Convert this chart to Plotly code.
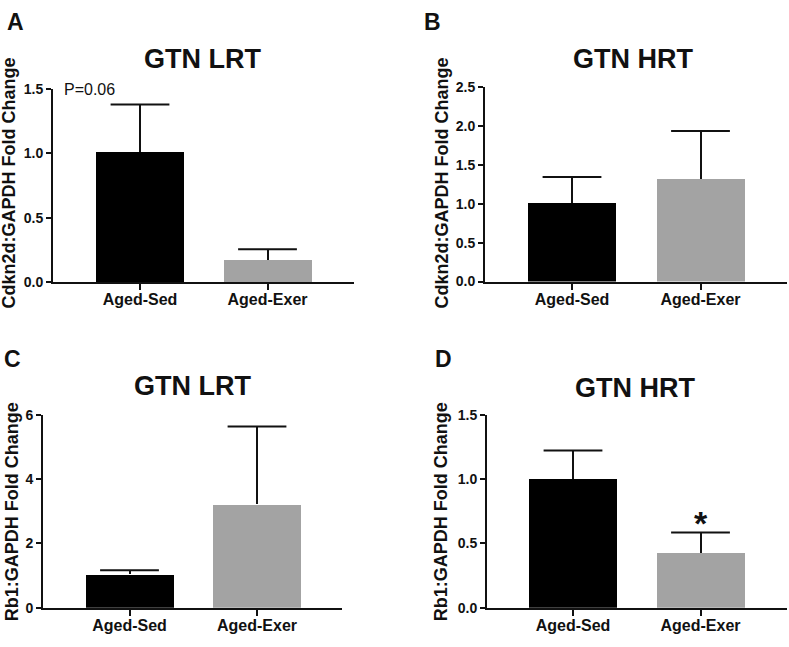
import plotly.graph_objects as go

W, H = 789, 647

groups = ["Aged-Sed", "Aged-Exer"]
colors = ["#000000", "#a3a3a3"]

# Panel A: Cdkn2d GTN LRT
a_mean = [1.01, 0.17]
a_sem = [0.37, 0.085]
# Panel B: Cdkn2d GTN HRT
b_mean = [1.01, 1.315]
b_sem = [0.335, 0.62]
# Panel C: Rb1 GTN LRT
c_mean = [1.04, 3.21]
c_sem = [0.125, 2.42]
# Panel D: Rb1 GTN HRT
d_mean = [1.0, 0.425]
d_sem = [0.222, 0.16]

FONT = "Liberation Sans, Arial, Helvetica, sans-serif"
TXT = "#111111"

panels = [
    dict(mean=a_mean, sem=a_sem, xl=53, xr=354, y0=281, y1=83, c1=140, sp=127.5, ymax=1.5, dtick=0.5, fmt=".1f",
         title="GTN LRT", tx=202, ty=52, label="A", lx=15, ly=14, ytitle="Cdkn2d:GAPDH Fold Change", ytx=9, yty=180),
    dict(mean=b_mean, sem=b_sem, xl=485, xr=787, y0=280.5, y1=81, c1=572, sp=128.5, ymax=2.5, dtick=0.5, fmt=".1f",
         title="GTN HRT", tx=633, ty=52, label="B", lx=432, ly=14, ytitle="Cdkn2d:GAPDH Fold Change", ytx=442, yty=180),
    dict(mean=c_mean, sem=c_sem, xl=43, xr=342, y0=615, y1=417, c1=129.5, sp=127.5, ymax=6, dtick=2, fmt="d",
         title="GTN LRT", tx=192, ty=388, label="C", lx=12, ly=360, ytitle="Rb1:GAPDH Fold Change", ytx=12, yty=517),
    dict(mean=d_mean, sem=d_sem, xl=487, xr=787, y0=615, y1=417, c1=573, sp=127.5, ymax=1.5, dtick=0.5, fmt=".1f",
         title="GTN HRT", tx=635, ty=390, label="D", lx=443, ly=360, ytitle="Rb1:GAPDH Fold Change", ytx=441, yty=517),
]

fig = go.Figure()
annotations = []
for i, p in enumerate(panels):
    n = "" if i == 0 else str(i + 1)
    xa, ya = "x" + n, "y" + n
    bw = 88 / p["sp"]
    fig.add_trace(go.Bar(
        x=[0, 1], y=p["mean"], width=[bw, bw],
        marker=dict(color=colors, line=dict(width=0)),
        error_y=dict(type="data", symmetric=False, array=p["sem"], arrayminus=[0, 0],
                     color="#111111", thickness=2, width=0),
        xaxis=xa, yaxis=ya, showlegend=False, hoverinfo="y",
    ))
    # caps on top of the error bars
    fig.add_trace(go.Scatter(
        x=[0, 1], y=[m + s for m, s in zip(p["mean"], p["sem"])], mode="markers",
        marker=dict(symbol="line-ew", size=42, line=dict(width=2, color="#111111")),
        xaxis=xa, yaxis=ya, showlegend=False, hoverinfo="skip", cliponaxis=False,
    ))
    xr0 = (p["xl"] - p["c1"]) / p["sp"]
    xr1 = (p["xr"] - p["c1"]) / p["sp"]
    fig.layout["xaxis" + n] = dict(
        domain=[p["xl"] / W, p["xr"] / W], range=[xr0, xr1], anchor=ya,
        tickvals=[0, 1], ticktext=groups, showline=True, linewidth=2, linecolor=TXT,
        ticks="outside", ticklen=6, tickwidth=2, tickcolor=TXT, showgrid=False, zeroline=False,
        ticklabelstandoff=-4,
        tickfont=dict(family=FONT, size=16, color=TXT, weight="bold"), fixedrange=True,
    )
    fig.layout["yaxis" + n] = dict(
        domain=[1 - p["y0"] / H, 1 - p["y1"] / H], range=[0, p["ymax"]], anchor=xa,
        dtick=p["dtick"], tick0=0, tickformat=p["fmt"], showline=True, linewidth=2, linecolor=TXT,
        ticks="outside", ticklen=5, tickwidth=2, tickcolor=TXT, showgrid=False, zeroline=False,
        tickfont=dict(family=FONT, size=14, color=TXT, weight="bold"), fixedrange=True,
    )
    annotations.append(dict(text="<b>" + p["title"] + "</b>", x=p["tx"] / W, y=1 - p["ty"] / H,
                            xref="paper", yref="paper", showarrow=False, xanchor="center", yanchor="middle",
                            font=dict(family=FONT, size=27, color=TXT)))
    annotations.append(dict(text="<b>" + p["label"] + "</b>", x=p["lx"] / W, y=1 - p["ly"] / H,
                            xref="paper", yref="paper", showarrow=False, xanchor="center", yanchor="middle",
                            font=dict(family=FONT, size=23, color=TXT)))
    annotations.append(dict(text="<b>" + p["ytitle"] + "</b>", x=p["ytx"] / W, y=1 - p["yty"] / H,
                            xref="paper", yref="paper", showarrow=False, xanchor="center", yanchor="middle",
                            textangle=-90, font=dict(family=FONT, size=18, color=TXT)))

annotations.append(dict(text="P=0.06", x=89 / W, y=1 - 84 / H, xref="paper", yref="paper", showarrow=False,
                        xanchor="center", yanchor="middle", font=dict(family=FONT, size=16, color=TXT)))
annotations.append(dict(text="<b>*</b>", x=1, y=0.66, xref="x4", yref="y4", showarrow=False,
                        xanchor="center", yanchor="middle", font=dict(family=FONT, size=34, color=TXT)))

fig.update_layout(
    width=W, height=H, margin=dict(l=0, r=0, t=0, b=0),
    paper_bgcolor="white", plot_bgcolor="white", annotations=annotations, bargap=0,
)
fig.write_html("out.html", config={"displayModeBar": False},
               post_script="document.body.style.margin='0';document.body.style.overflow='hidden';")
